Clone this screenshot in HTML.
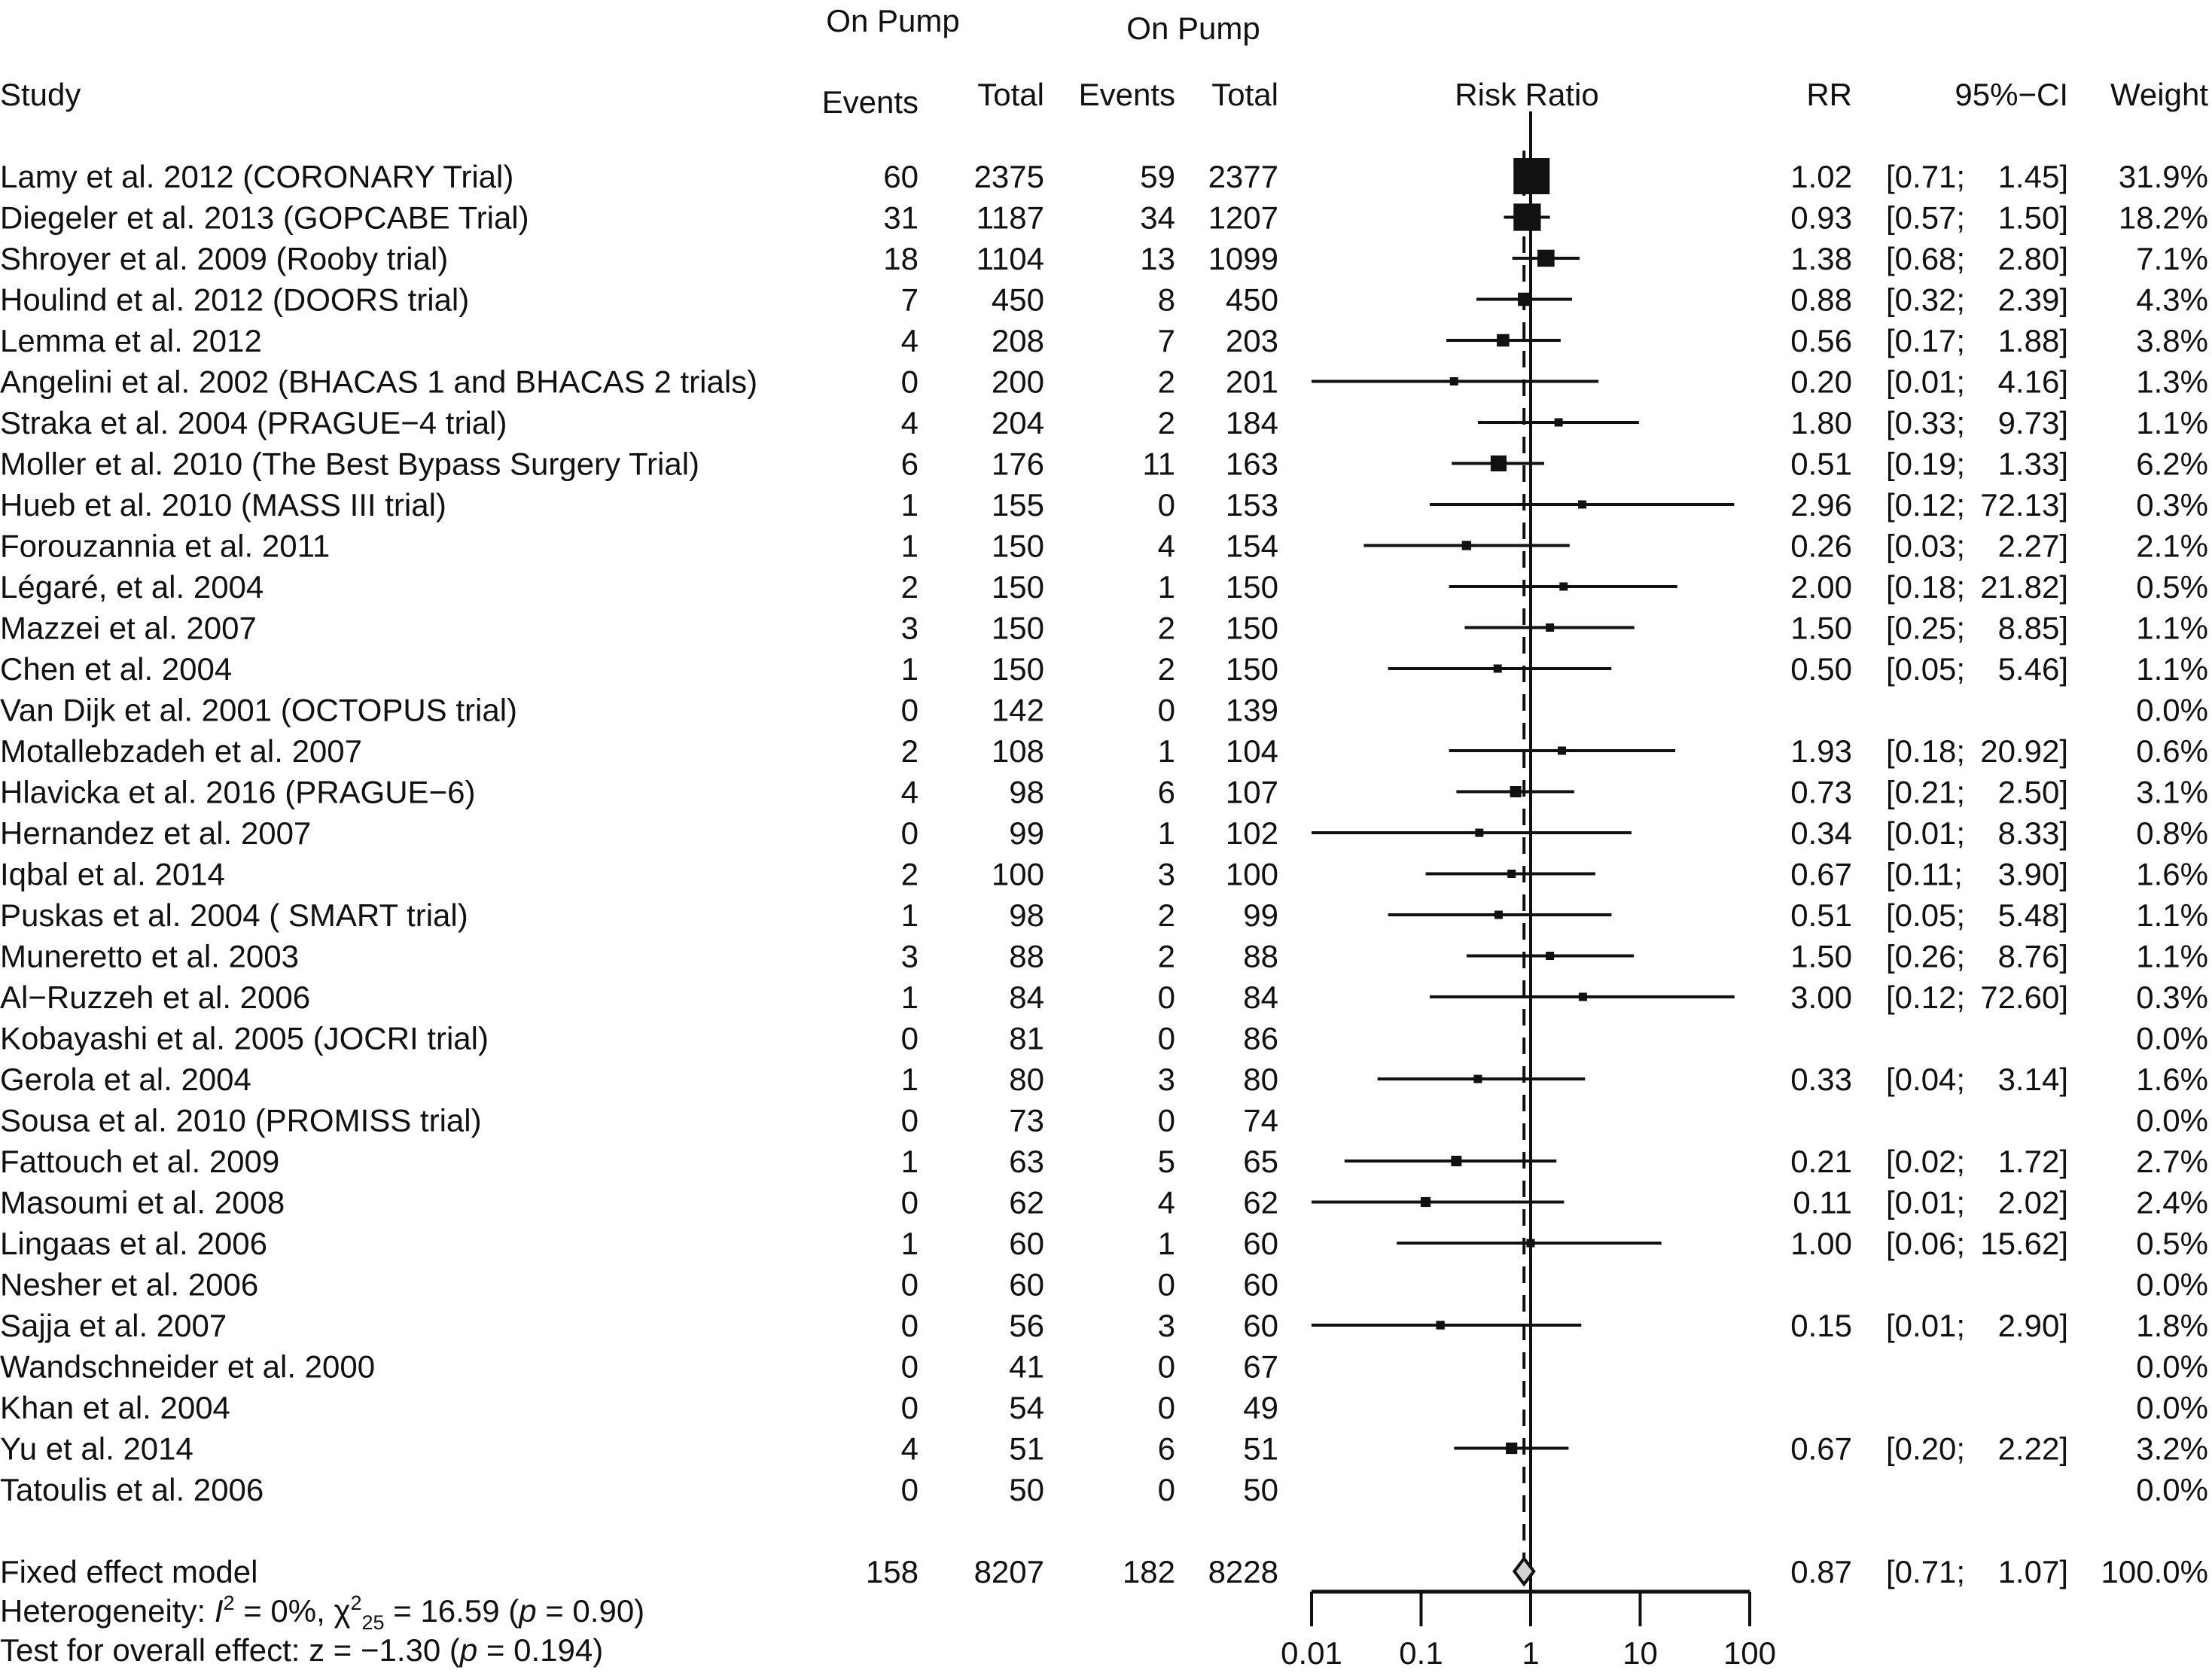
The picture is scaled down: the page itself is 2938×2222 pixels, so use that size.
<!DOCTYPE html>
<html><head><meta charset="utf-8"><style>
html,body{margin:0;padding:0;background:#fff;}
svg{display:block;font-family:"Liberation Sans",Arial,sans-serif;}
</style></head><body>
<svg id="plot" width="2938" height="2222" viewBox="0 0 2938 2222" xmlns="http://www.w3.org/2000/svg">
<g font-size="42" fill="#111">
<text x="1186" y="42" text-anchor="middle">On Pump</text>
<text x="1585" y="52" text-anchor="middle">On Pump</text>
<text x="0" y="140">Study</text>
<text x="1220" y="150" text-anchor="end">Events</text>
<text x="1387" y="140" text-anchor="end">Total</text>
<text x="1561" y="140" text-anchor="end">Events</text>
<text x="1698" y="140" text-anchor="end">Total</text>
<text x="2028" y="140" text-anchor="middle">Risk Ratio</text>
<text x="2460" y="140" text-anchor="end">RR</text>
<text x="2747" y="140" text-anchor="end">95%−CI</text>
<text x="2933" y="140" text-anchor="end">Weight</text>
</g>
<g id="rows" font-size="42" fill="#111"></g>
<g id="marks"></g>
</svg>
<script>
const studies=["Lamy et al. 2012 (CORONARY Trial)","Diegeler et al. 2013 (GOPCABE Trial)","Shroyer et al. 2009 (Rooby trial)","Houlind et al. 2012 (DOORS trial)","Lemma et al. 2012","Angelini et al. 2002 (BHACAS 1 and BHACAS 2 trials)","Straka et al. 2004  (PRAGUE−4 trial)","Moller et al. 2010 (The Best Bypass Surgery Trial)","Hueb et al. 2010 (MASS III trial)","Forouzannia et al. 2011","Légaré, et al. 2004","Mazzei et al. 2007","Chen et al. 2004","Van Dijk et al. 2001 (OCTOPUS trial)","Motallebzadeh et al. 2007","Hlavicka et al. 2016 (PRAGUE−6)","Hernandez et al. 2007","Iqbal et al. 2014","Puskas et al. 2004 ( SMART trial)","Muneretto et al. 2003","Al−Ruzzeh et al. 2006","Kobayashi et al. 2005 (JOCRI trial)","Gerola et al. 2004","Sousa et al. 2010  (PROMISS trial)","Fattouch et al. 2009","Masoumi et al. 2008","Lingaas et al. 2006","Nesher et al. 2006","Sajja et al. 2007","Wandschneider et al. 2000","Khan et al. 2004","Yu et al. 2014","Tatoulis et al. 2006"];
const events1=[60,31,18,7,4,0,4,6,1,1,2,3,1,0,2,4,0,2,1,3,1,0,1,0,1,0,1,0,0,0,0,4,0];
const total1=[2375,1187,1104,450,208,200,204,176,155,150,150,150,150,142,108,98,99,100,98,88,84,81,80,73,63,62,60,60,56,41,54,51,50];
const events2=[59,34,13,8,7,2,2,11,0,4,1,2,2,0,1,6,1,3,2,2,0,0,3,0,5,4,1,0,3,0,0,6,0];
const total2=[2377,1207,1099,450,203,201,184,163,153,154,150,150,150,139,104,107,102,100,99,88,84,86,80,74,65,62,60,60,60,67,49,51,50];
const rr=[1.02,0.93,1.38,0.88,0.56,0.20,1.80,0.51,2.96,0.26,2.00,1.50,0.50,null,1.93,0.73,0.34,0.67,0.51,1.50,3.00,null,0.33,null,0.21,0.11,1.00,null,0.15,null,null,0.67,null];
const lower=[0.71,0.57,0.68,0.32,0.17,0.01,0.33,0.19,0.12,0.03,0.18,0.25,0.05,null,0.18,0.21,0.01,0.11,0.05,0.26,0.12,null,0.04,null,0.02,0.01,0.06,null,0.01,null,null,0.20,null];
const upper=[1.45,1.50,2.80,2.39,1.88,4.16,9.73,1.33,72.13,2.27,21.82,8.85,5.46,null,20.92,2.50,8.33,3.90,5.48,8.76,72.60,null,3.14,null,1.72,2.02,15.62,null,2.90,null,null,2.22,null];
const weights=[31.9,18.2,7.1,4.3,3.8,1.3,1.1,6.2,0.3,2.1,0.5,1.1,1.1,0.0,0.6,3.1,0.8,1.6,1.1,1.1,0.3,0.0,1.6,0.0,2.7,2.4,0.5,0.0,1.8,0.0,0.0,3.2,0.0];
const pooled=[0.87,0.71,1.07];
const axisTicks=[0.01,0.1,1,10,100];
const tickLabels=["0.01","0.1","1","10","100"];

const NS="http://www.w3.org/2000/svg";
const X0=2033, DEC=145.5, Y0=234, STEP=54.5;
const xs=v=>X0+Math.log10(v)*DEC;
const ys=i=>Y0+i*STEP;
const rowsG=document.getElementById('rows'), marks=document.getElementById('marks');
function mk(tag,attrs,parent){const e=document.createElementNS(NS,tag);for(const k in attrs)e.setAttribute(k,attrs[k]);parent.appendChild(e);return e;}
function txt(s,x,y,anchor,parent){const t=mk('text',{x:x,y:y,'text-anchor':anchor},parent);t.textContent=s;return t;}
const f2=v=>v.toFixed(2);

studies.forEach((s,i)=>{
  const y=ys(i)+15;
  let t=txt(s,0,y,'start',rowsG);
  
  
  t=txt(events1[i],1220,y,'end',rowsG);
  
  
  t=txt(total1[i],1387,y,'end',rowsG);
  
  
  t=txt(events2[i],1561,y,'end',rowsG);
  
  
  t=txt(total2[i],1698,y,'end',rowsG);
  
  
  t=txt(weights[i].toFixed(1)+"%",2933,y,'end',rowsG);
  
  
  if(rr[i]!==null){
    t=txt(f2(rr[i]),2460,y,'end',rowsG);
    
    
    t=txt("["+f2(lower[i])+";",2505,y,'start',rowsG);
    
    
    t=txt(f2(upper[i])+"]",2747,y,'end',rowsG);
    
    
    const yc=ys(i);
    const l=mk('line',{x1:xs(lower[i]),x2:xs(upper[i]),y1:yc,y2:yc,stroke:'#111','stroke-width':4},marks);
    
    
    const side=Math.max(11,48*Math.sqrt(weights[i]/31.9));
    const r=mk('rect',{x:xs(rr[i])-side/2,y:yc-side/2,width:side,height:side,fill:'#111'},marks);
    
    
  }
});
let vl=mk('line',{x1:X0,x2:X0,y1:148,y2:2114,stroke:'#111','stroke-width':4},marks);


let dl=mk('line',{x1:xs(pooled[0]),x2:xs(pooled[0]),y1:200,y2:2087,stroke:'#111','stroke-width':4,'stroke-dasharray':'22 16'},marks);


const py=2087;
let g=document.createElementNS(NS,'g');g.setAttribute('font-size','42');g.setAttribute('fill','#111');document.getElementById('plot').appendChild(g);
let t=txt("Fixed effect model",0,py+15,'start',g);


const sums=[events1,total1,events2,total2].map(a=>a.reduce((p,c)=>p+c,0));
[1220,1387,1561,1698].forEach((x,k)=>{t=txt(sums[k],x,py+15,'end',g);
  
  });
t=txt(f2(pooled[0]),2460,py+15,'end',g);


t=txt("["+f2(pooled[1])+";",2505,py+15,'start',g);


t=txt(f2(pooled[2])+"]",2747,py+15,'end',g);


t=txt("100.0%",2933,py+15,'end',g);


const dm=mk('polygon',{points:`${xs(pooled[1])},${py} ${xs(pooled[0])},${py-17} ${xs(pooled[2])},${py} ${xs(pooled[0])},${py+17}`,fill:'#d3d3d3',stroke:'#111','stroke-width':4},marks);


const ax=mk('line',{x1:xs(axisTicks[0]),x2:xs(axisTicks[axisTicks.length-1]),y1:2114,y2:2114,stroke:'#111','stroke-width':5},marks);


axisTicks.forEach((v,k)=>{
  const tk=mk('line',{x1:xs(v),x2:xs(v),y1:2114,y2:2160,stroke:'#111','stroke-width':4},marks);
  
  
  const tl=txt(tickLabels[k],xs(v),2210,'middle',g);
  
  
});
const h=mk('text',{x:0,y:2154},g);


h.innerHTML='Heterogeneity: <tspan font-style="italic">I</tspan><tspan font-size="27" dy="-16">2</tspan><tspan dy="16"> = 0%, χ</tspan><tspan font-size="27" dy="-16">2</tspan><tspan font-size="27" dy="26">25</tspan><tspan dy="-10"> = 16.59 (</tspan><tspan font-style="italic">p</tspan> = 0.90)';
const tt=mk('text',{x:0,y:2206},g);


tt.innerHTML='Test for overall effect: z = −1.30 (<tspan font-style="italic">p</tspan> = 0.194)';
</script>
</body></html>
